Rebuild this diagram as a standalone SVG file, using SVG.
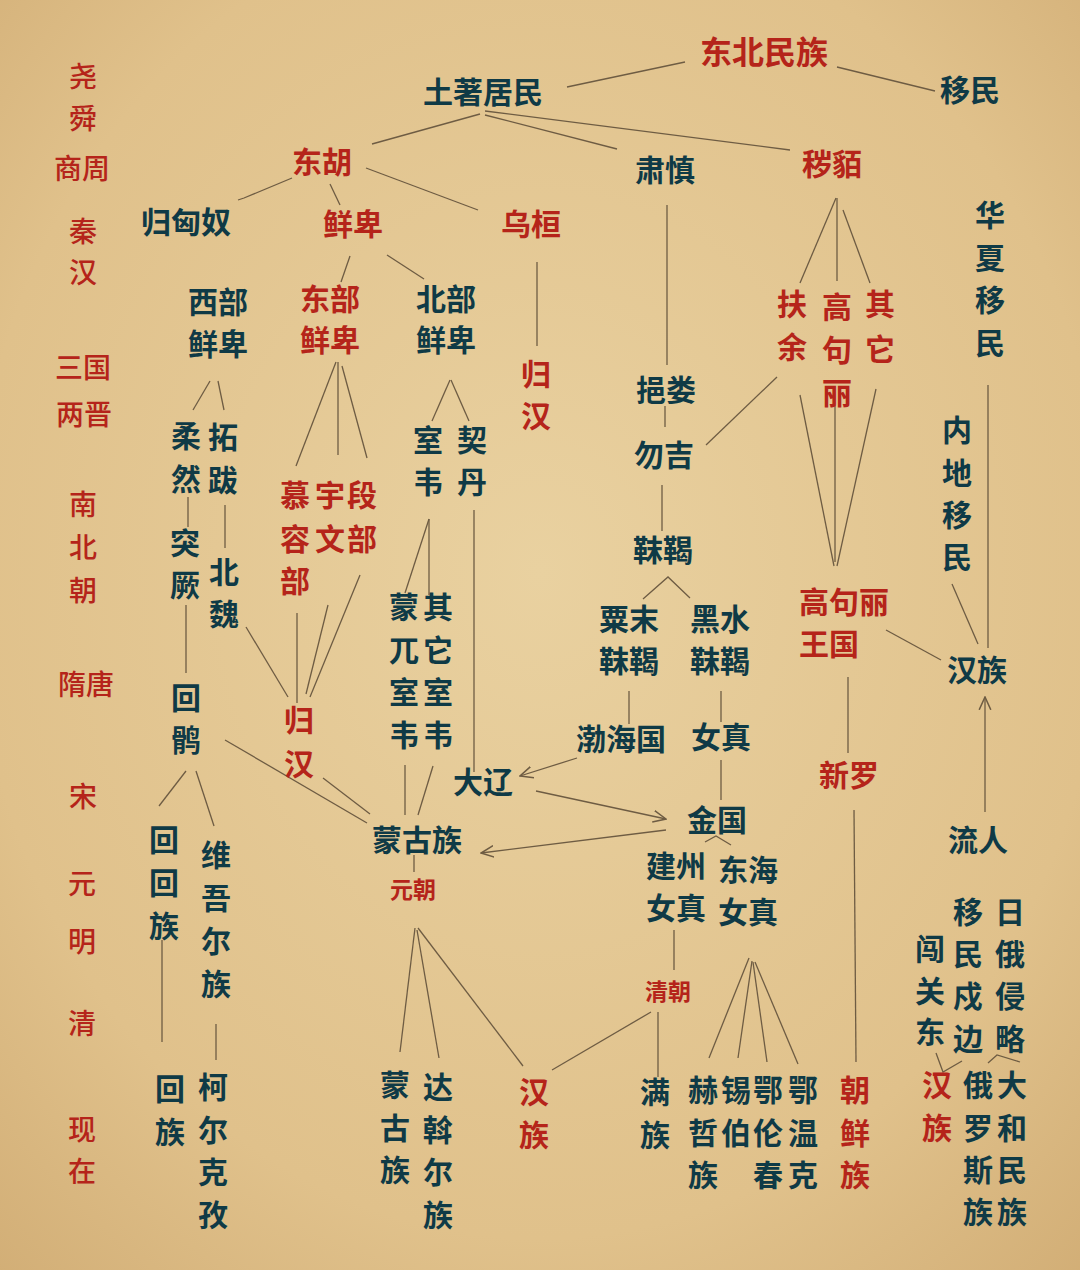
<svg xmlns="http://www.w3.org/2000/svg" width="1080" height="1270" viewBox="0 0 1080 1270">
<defs>
<radialGradient id="bg" cx="50%" cy="45%" r="75%">
<stop offset="0" stop-color="#e9d1a0"/>
<stop offset="0.7" stop-color="#e0c18b"/>
<stop offset="1" stop-color="#d2ae76"/>
</radialGradient>
<marker id="ar" viewBox="0 0 12 12" refX="11" refY="6" markerWidth="14" markerHeight="14" markerUnits="userSpaceOnUse" orient="auto">
<path d="M0,1 L11,6 L0,11" fill="none" stroke="#6e5c43" stroke-width="1.3"/>
</marker>
<style>
text{font-family:"Noto Sans CJK SC","Noto Sans",sans-serif;font-weight:700;font-size:30px;text-anchor:middle;dominant-baseline:central}
.r{fill:#b5241a}
.d{fill:#0f3a46}
.t{fill:#b5241a;font-size:28px;font-weight:500}
.s{font-size:23px}
.big{font-size:32px}
#connectors line,#connectors polyline{stroke:#6e5c43;stroke-width:1.3;fill:none}
.a{marker-end:url(#ar)}
</style>
</defs>
<rect width="1080" height="1270" fill="url(#bg)"/>

<g id="timeline">
<text class="t" x="83" y="75">尧</text>
<text class="t" x="83" y="117">舜</text>
<text class="t" x="82" y="167">商周</text>
<text class="t" x="83" y="230">秦</text>
<text class="t" x="83" y="271">汉</text>
<text class="t" x="83" y="366">三国</text>
<text class="t" x="84" y="413">两晋</text>
<text class="t" x="83" y="503">南</text>
<text class="t" x="83" y="546">北</text>
<text class="t" x="83" y="589">朝</text>
<text class="t" x="86" y="683">隋唐</text>
<text class="t" x="83" y="795">宋</text>
<text class="t" x="82" y="882">元</text>
<text class="t" x="82" y="940">明</text>
<text class="t" x="82" y="1022">清</text>
<text class="t" x="82" y="1128">现</text>
<text class="t" x="82" y="1170">在</text>
</g>

<g id="connectors">
<line x1="685" y1="62" x2="567" y2="87"/>
<line x1="837" y1="67" x2="935" y2="91"/>
<line x1="480" y1="114" x2="372" y2="144"/>
<line x1="485" y1="115" x2="617" y2="149"/>
<line x1="485" y1="111" x2="790" y2="150"/>
<polyline points="292,178 244,198 238,200"/>
<line x1="330" y1="184" x2="340" y2="205"/>
<line x1="366" y1="168" x2="478" y2="210"/>
<line x1="350" y1="256" x2="341" y2="282"/>
<line x1="387" y1="255" x2="424" y2="279"/>
<line x1="537" y1="262" x2="537" y2="346"/>
<line x1="210" y1="381" x2="193" y2="410"/>
<line x1="218" y1="381" x2="224" y2="410"/>
<line x1="336" y1="362" x2="296" y2="466"/>
<line x1="338" y1="362" x2="338" y2="455"/>
<line x1="342" y1="366" x2="367" y2="458"/>
<line x1="450" y1="380" x2="432" y2="421"/>
<line x1="451" y1="380" x2="469" y2="421"/>
<line x1="667" y1="205" x2="667" y2="365"/>
<line x1="665" y1="406" x2="665" y2="427"/>
<line x1="836" y1="198" x2="800" y2="283"/>
<line x1="837" y1="198" x2="837" y2="281"/>
<line x1="843" y1="210" x2="870" y2="283"/>
<line x1="988" y1="385" x2="988" y2="648"/>
<line x1="777" y1="377" x2="706" y2="445"/>
<line x1="800" y1="395" x2="834" y2="566"/>
<line x1="835" y1="405" x2="835" y2="562"/>
<line x1="876" y1="389" x2="837" y2="566"/>
<line x1="952" y1="584" x2="978" y2="644"/>
<line x1="886" y1="630" x2="941" y2="660"/>
<line x1="848" y1="677" x2="848" y2="753"/>
<line x1="985" y1="812" x2="985" y2="697" class="a"/>
<line x1="662" y1="485" x2="662" y2="531"/>
<polyline points="643,599 668,577 690,598"/>
<line x1="629" y1="691" x2="629" y2="724"/>
<line x1="721" y1="691" x2="721" y2="722"/>
<line x1="721" y1="760" x2="721" y2="800"/>
<line x1="577" y1="758" x2="520" y2="776" class="a"/>
<line x1="536" y1="791" x2="666" y2="819" class="a"/>
<line x1="666" y1="830" x2="481" y2="853" class="a"/>
<line x1="474" y1="510" x2="474" y2="772"/>
<line x1="225" y1="505" x2="225" y2="548"/>
<line x1="188" y1="497" x2="188" y2="527"/>
<line x1="186" y1="605" x2="186" y2="673"/>
<line x1="246" y1="627" x2="288" y2="697"/>
<line x1="297" y1="613" x2="297" y2="703"/>
<line x1="328" y1="605" x2="306" y2="694"/>
<line x1="360" y1="575" x2="310" y2="697"/>
<line x1="429" y1="519" x2="405" y2="593"/>
<line x1="429" y1="519" x2="429" y2="595"/>
<line x1="405" y1="765" x2="405" y2="815"/>
<line x1="433" y1="766" x2="418" y2="815"/>
<line x1="225" y1="740" x2="367" y2="823"/>
<line x1="323" y1="778" x2="370" y2="814"/>
<line x1="186" y1="771" x2="159" y2="806"/>
<line x1="196" y1="771" x2="214" y2="826"/>
<line x1="162" y1="940" x2="162" y2="1042"/>
<line x1="216" y1="1024" x2="216" y2="1060"/>
<line x1="414" y1="855" x2="414" y2="872"/>
<line x1="415" y1="928" x2="400" y2="1052"/>
<line x1="417" y1="930" x2="439" y2="1058"/>
<line x1="418" y1="928" x2="523" y2="1066"/>
<polyline points="705,842 716,836 731,845"/>
<line x1="674" y1="930" x2="674" y2="970"/>
<line x1="651" y1="1012" x2="552" y2="1070"/>
<line x1="658" y1="1012" x2="658" y2="1077"/>
<line x1="749" y1="958" x2="709" y2="1058"/>
<line x1="752" y1="961" x2="738" y2="1058"/>
<line x1="753" y1="962" x2="767" y2="1062"/>
<line x1="755" y1="962" x2="798" y2="1064"/>
<line x1="854" y1="810" x2="856" y2="1062"/>
<polyline points="936,1053 943,1072 962,1061"/>
<polyline points="988,1063 997,1055 1020,1062"/>
</g>

<g id="n-dongbei"><text class="r big" x="764" y="50">东北民族</text></g>
<g id="n-tuzhu"><text class="d" x="483" y="90">土著居民</text></g>
<g id="n-yimin"><text class="d" x="970" y="88">移民</text></g>
<g id="n-donghu"><text class="r" x="322" y="160">东胡</text></g>
<g id="n-sushen"><text class="d" x="665" y="168">肃慎</text></g>
<g id="n-huimo"><text class="r" x="832" y="162">秽貊</text></g>
<g id="n-guixiongnu"><text class="d" x="186" y="220">归匈奴</text></g>
<g id="n-xianbei"><text class="r" x="353" y="222">鲜卑</text></g>
<g id="n-wuhuan"><text class="r" x="531" y="222">乌桓</text></g>
<g id="n-xibu"><text class="d"><tspan x="218" y="300">西部</tspan><tspan x="218" y="342">鲜卑</tspan></text></g>
<g id="n-dongbu"><text class="r"><tspan x="330" y="297">东部</tspan><tspan x="330" y="338">鲜卑</tspan></text></g>
<g id="n-beibu"><text class="d"><tspan x="446" y="297">北部</tspan><tspan x="446" y="338">鲜卑</tspan></text></g>
<g id="n-guihan1"><text class="r"><tspan x="536" y="372">归</tspan><tspan x="536" y="414">汉</tspan></text></g>
<g id="n-fuyu"><text class="r"><tspan x="792" y="302">扶</tspan><tspan x="792" y="345">余</tspan></text></g>
<g id="n-gaogouli"><text class="r"><tspan x="837" y="305">高</tspan><tspan x="837" y="348">句</tspan><tspan x="837" y="391">丽</tspan></text></g>
<g id="n-qita1"><text class="r"><tspan x="880" y="302">其</tspan><tspan x="880" y="347">它</tspan></text></g>
<g id="n-huaxia"><text class="d"><tspan x="990" y="213">华</tspan><tspan x="990" y="256">夏</tspan><tspan x="990" y="298">移</tspan><tspan x="990" y="341">民</tspan></text></g>
<g id="n-yilou"><text class="d" x="666" y="388">挹娄</text></g>
<g id="n-wuji"><text class="d" x="664" y="453">勿吉</text></g>
<g id="n-rouran"><text class="d"><tspan x="186" y="434">柔</tspan><tspan x="186" y="477">然</tspan></text></g>
<g id="n-tuoba"><text class="d"><tspan x="223" y="435">拓</tspan><tspan x="223" y="478">跋</tspan></text></g>
<g id="n-shiwei"><text class="d"><tspan x="428" y="438">室</tspan><tspan x="428" y="480">韦</tspan></text></g>
<g id="n-qidan"><text class="d"><tspan x="472" y="438">契</tspan><tspan x="472" y="480">丹</tspan></text></g>
<g id="n-murong"><text class="r"><tspan x="295" y="493">慕</tspan><tspan x="295" y="537">容</tspan><tspan x="295" y="579">部</tspan></text></g>
<g id="n-yuwen"><text class="r"><tspan x="330" y="493">宇</tspan><tspan x="330" y="537">文</tspan></text></g>
<g id="n-duanbu"><text class="r"><tspan x="362" y="493">段</tspan><tspan x="362" y="537">部</tspan></text></g>
<g id="n-tujue"><text class="d"><tspan x="185" y="541">突</tspan><tspan x="185" y="583">厥</tspan></text></g>
<g id="n-beiwei"><text class="d"><tspan x="224" y="570">北</tspan><tspan x="224" y="612">魏</tspan></text></g>
<g id="n-neidi"><text class="d"><tspan x="957" y="428">内</tspan><tspan x="957" y="471">地</tspan><tspan x="957" y="513">移</tspan><tspan x="957" y="555">民</tspan></text></g>
<g id="n-mohe"><text class="d" x="663" y="548">靺鞨</text></g>
<g id="n-sumo"><text class="d"><tspan x="629" y="617">粟末</tspan><tspan x="629" y="659">靺鞨</tspan></text></g>
<g id="n-heishui"><text class="d"><tspan x="720" y="617">黑水</tspan><tspan x="720" y="659">靺鞨</tspan></text></g>
<g id="n-gaogouliwg"><text class="r"><tspan x="844" y="600">高句丽</tspan><tspan x="829" y="642">王国</tspan></text></g>
<g id="n-hanzu1"><text class="d" x="977" y="668">汉族</text></g>
<g id="n-mengwu"><text class="d"><tspan x="404" y="605">蒙</tspan><tspan x="404" y="648">兀</tspan><tspan x="404" y="690">室</tspan><tspan x="404" y="733">韦</tspan></text></g>
<g id="n-qitashiwei"><text class="d"><tspan x="438" y="605">其</tspan><tspan x="438" y="648">它</tspan><tspan x="438" y="690">室</tspan><tspan x="438" y="733">韦</tspan></text></g>
<g id="n-huihu"><text class="d"><tspan x="186" y="696">回</tspan><tspan x="186" y="738">鹘</tspan></text></g>
<g id="n-guihan2"><text class="r"><tspan x="299" y="718">归</tspan><tspan x="299" y="762">汉</tspan></text></g>
<g id="n-bohai"><text class="d" x="621" y="737">渤海国</text></g>
<g id="n-nvzhen"><text class="d" x="721" y="735">女真</text></g>
<g id="n-daliao"><text class="d" x="483" y="780">大辽</text></g>
<g id="n-xinluo"><text class="r" x="849" y="773">新罗</text></g>
<g id="n-jinguo"><text class="d" x="717" y="818">金国</text></g>
<g id="n-menggu"><text class="d" x="417" y="838">蒙古族</text></g>
<g id="n-liuren"><text class="d" x="978" y="838">流人</text></g>
<g id="n-yuanchao"><text class="r s" x="413" y="888">元朝</text></g>
<g id="n-jianzhou"><text class="d"><tspan x="676" y="864">建州</tspan><tspan x="676" y="906">女真</tspan></text></g>
<g id="n-donghai"><text class="d"><tspan x="748" y="868">东海</tspan><tspan x="748" y="910">女真</tspan></text></g>
<g id="n-huihuizu"><text class="d"><tspan x="164" y="838">回</tspan><tspan x="164" y="881">回</tspan><tspan x="164" y="924">族</tspan></text></g>
<g id="n-weiwuer"><text class="d"><tspan x="216" y="853">维</tspan><tspan x="216" y="896">吾</tspan><tspan x="216" y="939">尔</tspan><tspan x="216" y="982">族</tspan></text></g>
<g id="n-yiminshubian"><text class="d"><tspan x="968" y="910">移</tspan><tspan x="968" y="952">民</tspan><tspan x="968" y="994">戍</tspan><tspan x="968" y="1037">边</tspan></text></g>
<g id="n-rieqinlue"><text class="d"><tspan x="1010" y="910">日</tspan><tspan x="1010" y="952">俄</tspan><tspan x="1010" y="994">侵</tspan><tspan x="1010" y="1037">略</tspan></text></g>
<g id="n-chuangguandong"><text class="d"><tspan x="930" y="947">闯</tspan><tspan x="930" y="989">关</tspan><tspan x="930" y="1030">东</tspan></text></g>
<g id="n-qingchao"><text class="r s" x="668" y="990">清朝</text></g>
<g id="n-mengguzu"><text class="d"><tspan x="395" y="1083">蒙</tspan><tspan x="395" y="1126">古</tspan><tspan x="395" y="1168">族</tspan></text></g>
<g id="n-dawoer"><text class="d"><tspan x="438" y="1085">达</tspan><tspan x="438" y="1128">斡</tspan><tspan x="438" y="1170">尔</tspan><tspan x="438" y="1213">族</tspan></text></g>
<g id="n-hanzu2"><text class="r"><tspan x="534" y="1090">汉</tspan><tspan x="534" y="1133">族</tspan></text></g>
<g id="n-manzu"><text class="d"><tspan x="655" y="1090">满</tspan><tspan x="655" y="1133">族</tspan></text></g>
<g id="n-hezhe"><text class="d"><tspan x="703" y="1088">赫</tspan><tspan x="703" y="1131">哲</tspan><tspan x="703" y="1173">族</tspan></text></g>
<g id="n-xibo"><text class="d"><tspan x="736" y="1088">锡</tspan><tspan x="736" y="1131">伯</tspan></text></g>
<g id="n-elunchun"><text class="d"><tspan x="768" y="1088">鄂</tspan><tspan x="768" y="1131">伦</tspan><tspan x="768" y="1173">春</tspan></text></g>
<g id="n-ewenke"><text class="d"><tspan x="803" y="1088">鄂</tspan><tspan x="803" y="1131">温</tspan><tspan x="803" y="1173">克</tspan></text></g>
<g id="n-chaoxian"><text class="r"><tspan x="855" y="1088">朝</tspan><tspan x="855" y="1131">鲜</tspan><tspan x="855" y="1173">族</tspan></text></g>
<g id="n-hanzu3"><text class="r"><tspan x="937" y="1083">汉</tspan><tspan x="937" y="1126">族</tspan></text></g>
<g id="n-eluosi"><text class="d"><tspan x="978" y="1083">俄</tspan><tspan x="978" y="1126">罗</tspan><tspan x="978" y="1168">斯</tspan><tspan x="978" y="1210">族</tspan></text></g>
<g id="n-dahe"><text class="d"><tspan x="1012" y="1083">大</tspan><tspan x="1012" y="1126">和</tspan><tspan x="1012" y="1168">民</tspan><tspan x="1012" y="1210">族</tspan></text></g>
<g id="n-huizu"><text class="d"><tspan x="170" y="1087">回</tspan><tspan x="170" y="1130">族</tspan></text></g>
<g id="n-keerkezi"><text class="d"><tspan x="213" y="1085">柯</tspan><tspan x="213" y="1128">尔</tspan><tspan x="213" y="1170">克</tspan><tspan x="213" y="1213">孜</tspan></text></g>
</svg>
